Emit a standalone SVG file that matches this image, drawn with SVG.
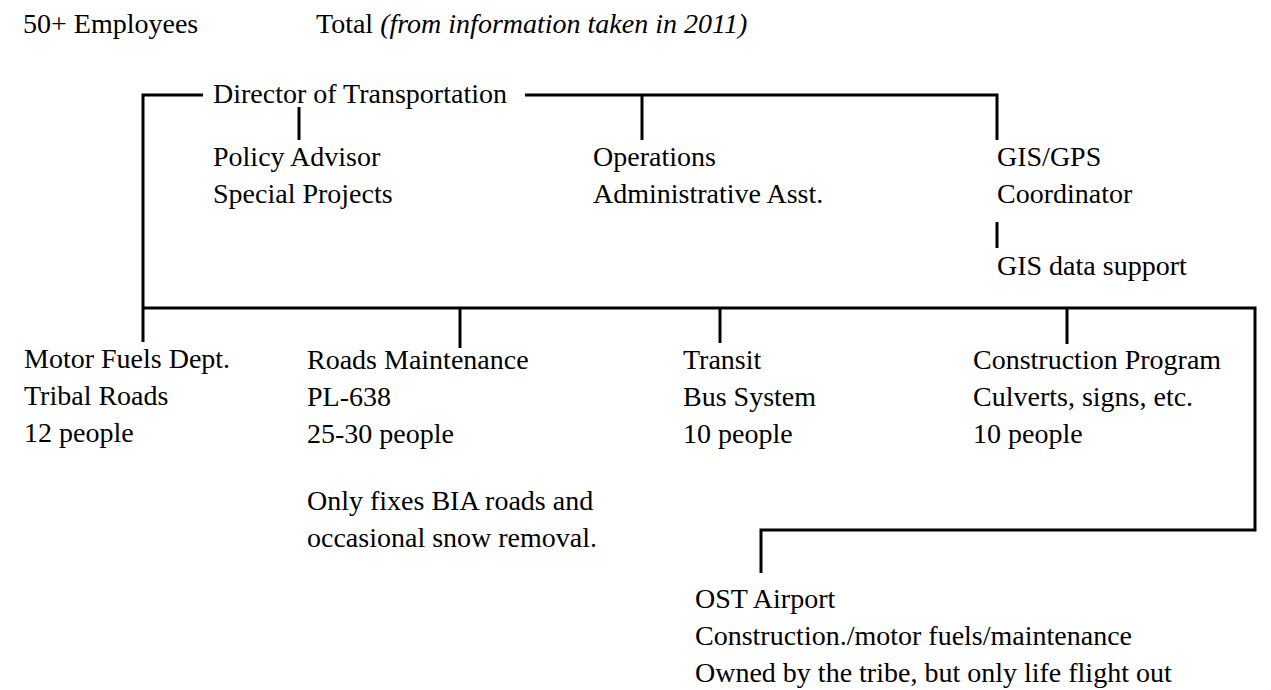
<svg xmlns="http://www.w3.org/2000/svg" width="1271" height="690" viewBox="0 0 1271 690">
<style>
text{font-family:'Liberation Serif',Tinos,'Times New Roman','DejaVu Serif',serif;font-size:28px;fill:#000}
.it{font-style:italic}
.ln{stroke:#000;stroke-width:3;fill:none;stroke-linecap:butt}
</style>
<rect width="1271" height="690" fill="#fff"/>
<g font-family="Liberation Serif, Times New Roman, serif">
<g id="header">
<text x="23" y="33">50+ Employees</text>
<text x="316" y="33">Total <tspan class="it">(from information taken in 2011)</tspan></text>
</g>
<g id="connectors">
<path class="ln" d="M203 95H143V342"/>
<path class="ln" d="M525 95H997V140"/>
<path class="ln" d="M299 107V140"/>
<path class="ln" d="M642 95V140"/>
<path class="ln" d="M997 222V248"/>
<path class="ln" d="M143 308H1255V530H761V573"/>
<path class="ln" d="M460 308V348"/>
<path class="ln" d="M720 308V343"/>
<path class="ln" d="M1067 308V344"/>
</g>
<g id="director"><text x="213" y="103">Director of Transportation</text></g>
<g id="policy"><text x="213" y="166">Policy Advisor</text><text x="213" y="203">Special Projects</text></g>
<g id="operations"><text x="593" y="166">Operations</text><text x="593" y="203">Administrative Asst.</text></g>
<g id="gis"><text x="997" y="166">GIS/GPS</text><text x="997" y="203">Coordinator</text></g>
<g id="gis-data"><text x="997" y="275">GIS data support</text></g>
<g id="motor-fuels"><text x="24" y="368">Motor Fuels Dept.</text><text x="24" y="405">Tribal Roads</text><text x="24" y="442">12 people</text></g>
<g id="roads"><text x="307" y="369">Roads Maintenance</text><text x="307" y="406">PL-638</text><text x="307" y="443">25-30 people</text><text x="307" y="510">Only fixes BIA roads and</text><text x="307" y="547">occasional snow removal.</text></g>
<g id="transit"><text x="683" y="369">Transit</text><text x="683" y="406">Bus System</text><text x="683" y="443">10 people</text></g>
<g id="construction"><text x="973" y="369">Construction Program</text><text x="973" y="406">Culverts, signs, etc.</text><text x="973" y="443">10 people</text></g>
<g id="airport"><text x="695" y="608">OST Airport</text><text x="695" y="645">Construction./motor fuels/maintenance</text><text x="695" y="682">Owned by the tribe, but only life flight out</text></g>
</g>
</svg>
